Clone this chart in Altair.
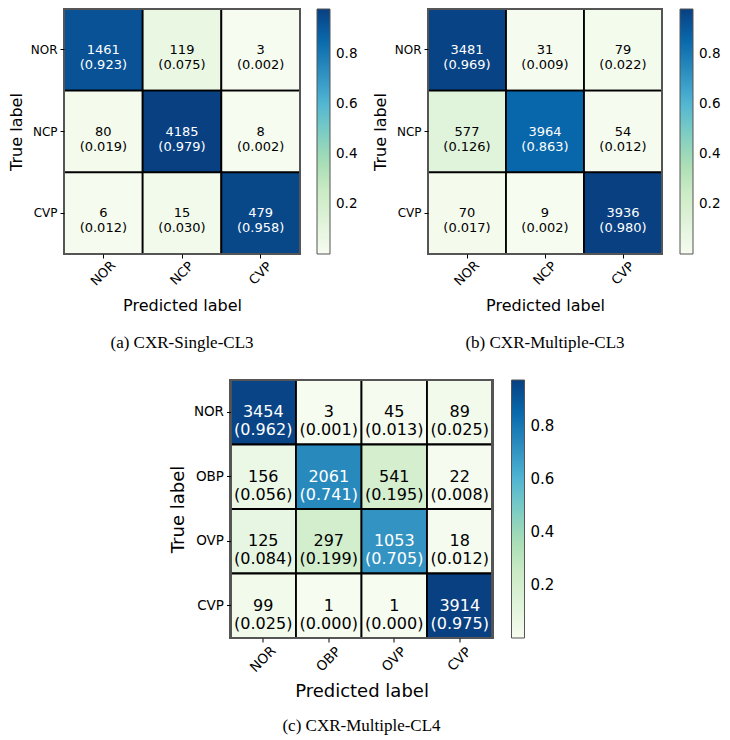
import altair as alt
import pandas as pd

labels3 = ["NOR", "NCP", "CVP"]
labels4 = ["NOR", "OBP", "OVP", "CVP"]

a_counts = [[1461, 119, 3], [80, 4185, 8], [6, 15, 479]]
a_ratios = [[0.923, 0.075, 0.002], [0.019, 0.979, 0.002], [0.012, 0.030, 0.958]]

b_counts = [[3481, 31, 79], [577, 3964, 54], [70, 9, 3936]]
b_ratios = [[0.969, 0.009, 0.022], [0.126, 0.863, 0.012], [0.017, 0.002, 0.980]]

c_counts = [[3454, 3, 45, 89], [156, 2061, 541, 22], [125, 297, 1053, 18], [99, 1, 1, 3914]]
c_ratios = [[0.962, 0.001, 0.013, 0.025], [0.056, 0.741, 0.195, 0.008],
            [0.084, 0.199, 0.705, 0.012], [0.025, 0.000, 0.000, 0.975]]

colorbar_ticks = [0.2, 0.4, 0.6, 0.8]
captions = ["(a) CXR-Single-CL3", "(b) CXR-Multiple-CL3", "(c) CXR-Multiple-CL4"]

# matplotlib / ColorBrewer GnBu stops
gnbu = ["#f7fcf0", "#e0f3db", "#ccebc5", "#a8ddb5", "#7bccc4",
        "#4eb3d3", "#2b8cbe", "#0868ac", "#084081"]


def panel(counts, ratios, labels, w, h, cap, fs_cell, fs_xtick, fs_ytick, fs_title, fs_leg, lh,
          leg_offset, xlab_pad, xtitle_pad, cap_offset):
    lo = min(min(r) for r in ratios)
    hi = max(max(r) for r in ratios)
    stops = [lo + k * (hi - lo) / (len(gnbu) - 1) for k in range(len(gnbu))]
    rows = []
    for i, t in enumerate(labels):
        for j, p in enumerate(labels):
            rows.append(dict(true=t, pred=p, count=counts[i][j], ratio=ratios[i][j],
                             txt=f"{counts[i][j]}\n({ratios[i][j]:.3f})",
                             light=bool(ratios[i][j] > hi / 2)))
    df = pd.DataFrame(rows)
    x = alt.X("pred:N", sort=labels, title="Predicted label",
              scale=alt.Scale(paddingInner=0, paddingOuter=0),
              axis=alt.Axis(labelAngle=-45, labelAlign="center", labelBaseline="middle",
                            labelFontSize=fs_xtick, titleFontSize=fs_title, titleFontWeight="normal",
                            labelColor="black", titleColor="black", tickColor="black",
                            tickSize=4, domain=False, labelPadding=xlab_pad,
                            titlePadding=xtitle_pad))
    y = alt.Y("true:N", sort=labels, title="True label",
              scale=alt.Scale(paddingInner=0, paddingOuter=0),
              axis=alt.Axis(labelFontSize=fs_ytick, titleFontSize=fs_title, titleFontWeight="normal",
                            labelColor="black", titleColor="black", tickColor="black",
                            tickSize=4, domain=False, labelPadding=3, titlePadding=6))
    base = alt.Chart(df)
    rect = base.mark_rect(stroke="black", strokeWidth=1.8).encode(
        x=x, y=y,
        color=alt.Color("ratio:Q",
                        scale=alt.Scale(domain=stops, range=gnbu, interpolate="rgb",
                                        nice=False, zero=False),
                        legend=alt.Legend(title=None, values=colorbar_ticks, orient="none",
                                          legendX=w + leg_offset, legendY=0,
                                          gradientLength=h, gradientThickness=13,
                                          gradientStrokeColor="#555", gradientStrokeWidth=1,
                                          labelFontSize=fs_leg, labelColor="black",
                                          labelOffset=6, direction="vertical",
                                          padding=0)))
    text = base.mark_text(fontSize=fs_cell, lineBreak="\n", lineHeight=lh).encode(
        x=x, y=y, text="txt:N",
        color=alt.condition("datum.light", alt.value("white"), alt.value("black")))
    frame = alt.Chart(df).mark_rect(fill=None, stroke="#555", strokeWidth=1.5).encode(
        x=alt.value(0), x2=alt.value(w), y=alt.value(0), y2=alt.value(h))
    return alt.layer(rect, text, frame).properties(
        width=w, height=h,
        title=alt.TitleParams(cap, orient="bottom", font="Liberation Serif", fontSize=17,
                              fontWeight="normal", offset=cap_offset, frame="group",
                              anchor="middle", color="black"))


pa = panel(a_counts, a_ratios, labels3, 236, 245, captions[0], 13, 13, 12, 16, 13.5, 15, 17, 15, 9, 22)
pb = panel(b_counts, b_ratios, labels3, 234, 245, captions[1], 13, 13, 12, 16, 13.5, 15, 18, 15, 9, 22)
pc = panel(c_counts, c_ratios, labels4, 262, 258, captions[2], 16, 13.5, 13.5, 18, 15, 18, 19, 17, 8, 18)

top = alt.hconcat(pa, pb, spacing=14).resolve_scale(color="independent").resolve_legend(color="independent")
chart = alt.vconcat(top, pc, spacing=27, center=True).resolve_scale(color="independent").resolve_legend(
    color="independent").properties(padding=0).configure(font="DejaVu Sans").configure_view(
    stroke=None)

chart.save("out.html", embed_options={"renderer": "svg", "actions": False})
